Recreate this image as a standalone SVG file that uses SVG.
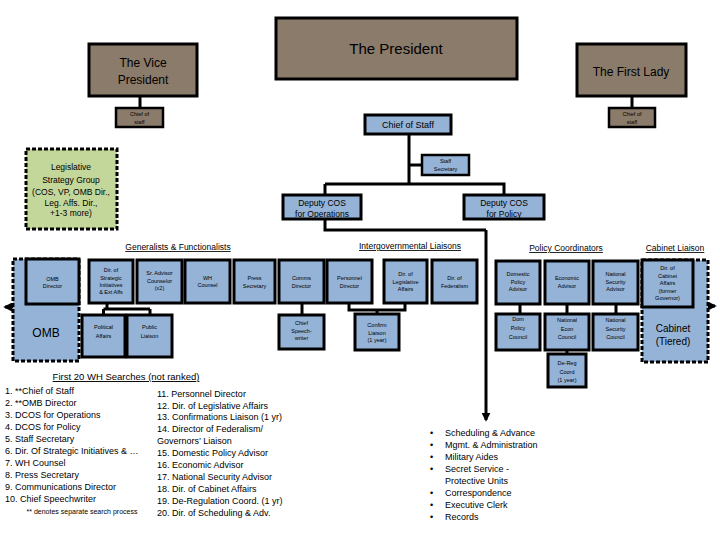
<svg xmlns="http://www.w3.org/2000/svg" width="720" height="540" viewBox="0 0 720 540">
<defs>
<style>
text{font-family:"Liberation Sans",Arial,sans-serif;fill:#000;text-anchor:middle}
.brown{fill:#8a7b6a;stroke:#000;stroke-width:3}
.blue{fill:#95b3d7;stroke:#000;stroke-width:3}
.blue2{fill:#95b3d7;stroke:#000;stroke-width:2.5}
.dash{stroke:#000;stroke-width:3;stroke-dasharray:4 2}
.green{fill:#c4d79b}
.t{font-size:5.5px}
.m{font-size:8.5px}
.h{font-size:8.5px;text-decoration:underline}
.l{font-size:9px;text-anchor:start}
.conn{fill:none;stroke:#000;stroke-width:3}
</style>
<marker id="arr" viewBox="0 0 10 10" refX="8" refY="5" markerWidth="3" markerHeight="3" orient="auto"><path d="M0,0L10,5L0,10z" fill="#000"/></marker>
</defs>
<rect width="720" height="540" fill="#fff"/>

<g id="connectors">
<path class="conn" d="M140,96V108M632,96V108"/>
<path class="conn" d="M409,134V184M409,165H422M325,184H504V195M325,184V230H486"/>
<path class="conn" d="M486,230V420" marker-end="url(#arr)"/>
<path class="conn" d="M13,307H5" marker-end="url(#arr)"/>
<path class="conn" d="M708,306H715" marker-end="url(#arr)"/>
<path class="conn" d="M107,303V309M103.5,309H150M103.5,309V315M150,309V315"/>
<path class="conn" d="M302,303V315"/>
<path class="conn" d="M349,303V310H405V303M377,310V314"/>
<path class="conn" d="M520,304V314M567,304V314M567,350V354M616,304V314"/>
</g>

<g id="president"><rect class="brown" x="276" y="18" width="241" height="61"/><text x="396" y="54" style="font-size:15px">The President</text></g>
<g id="vice-president"><rect class="brown" x="89" y="44" width="108" height="52"/><text x="143" y="67" style="font-size:12px">The Vice</text><text x="143" y="84" style="font-size:12px">President</text></g>
<g id="vp-chief-of-staff"><rect class="brown" x="116" y="108" width="47" height="19" style="stroke-width:2.5"/><text class="t" x="139.5" y="116">Chief of</text><text class="t" x="139.5" y="123.5">staff</text></g>
<g id="first-lady"><rect class="brown" x="577" y="44" width="109" height="52"/><text x="631" y="76" style="font-size:12px">The First Lady</text></g>
<g id="fl-chief-of-staff"><rect class="brown" x="609" y="108" width="46" height="19" style="stroke-width:2.5"/><text class="t" x="632" y="116">Chief of</text><text class="t" x="632" y="123.5">staff</text></g>

<g id="chief-of-staff"><rect class="blue" x="365" y="115" width="86" height="19"/><text x="408" y="128" style="font-size:9px">Chief of Staff</text></g>
<g id="staff-secretary"><rect class="blue2" x="422" y="155" width="47" height="20"/><text class="t" x="445.5" y="163">Staff</text><text class="t" x="445.5" y="171">Secretary</text></g>
<g id="deputy-ops"><rect class="blue" x="283" y="195" width="78" height="24"/><text class="m" x="322" y="206">Deputy COS</text><text class="m" x="322" y="217">for Operations</text></g>
<g id="deputy-policy"><rect class="blue" x="464" y="195" width="80" height="24"/><text class="m" x="504" y="206">Deputy COS</text><text class="m" x="504" y="217">for Policy</text></g>

<g id="legislative-strategy-group"><rect class="green dash" x="26" y="149" width="91" height="80"/><text class="m" x="71" y="170">Legislative</text><text class="m" x="71" y="183">Strategy Group</text><text class="m" x="71" y="195">(COS, VP, OMB Dir.,</text><text class="m" x="71" y="206">Leg. Affs. Dir.,</text><text class="m" x="71" y="216">+1-3 more)</text></g>

<g id="headings">
<text class="h" x="178" y="250">Generalists &amp; Functionalists</text>
<text class="h" x="410" y="249">Intergovernmental Liaisons</text>
<text class="h" x="566" y="251">Policy Coordinators</text>
<text class="h" x="675" y="251">Cabinet Liaison</text>
</g>

<g id="omb"><rect class="blue dash" x="13" y="259" width="66" height="102"/><text x="46" y="337" style="font-size:12px">OMB</text></g>
<g id="omb-director"><rect class="blue" x="26" y="259" width="53" height="45"/><text class="t" x="52.5" y="281">OMB</text><text class="t" x="52.5" y="288">Director</text></g>

<g id="dir-strategic"><rect class="blue" x="89" y="260" width="44" height="43"/><text class="t" x="111" y="272">Dir. of</text><text class="t" x="111" y="280">Strategic</text><text class="t" x="111" y="287">Initiatives</text><text class="t" x="111" y="294">&amp; Ext Affs</text></g>
<g id="sr-advisor"><rect class="blue" x="137" y="260" width="45" height="43"/><text class="t" x="159.5" y="275">Sr. Advisor</text><text class="t" x="159.5" y="283">Counselor</text><text class="t" x="159.5" y="290">(x2)</text></g>
<g id="wh-counsel"><rect class="blue" x="185" y="260" width="45" height="43"/><text class="t" x="207.5" y="280">WH</text><text class="t" x="207.5" y="287">Counsel</text></g>
<g id="press-secretary"><rect class="blue" x="234" y="260" width="41" height="43"/><text class="t" x="254.5" y="280">Press</text><text class="t" x="254.5" y="288">Secretary</text></g>
<g id="comms-director"><rect class="blue" x="279" y="260" width="45" height="43"/><text class="t" x="301.5" y="280">Comms</text><text class="t" x="301.5" y="288">Director</text></g>
<g id="personnel-director"><rect class="blue" x="327" y="260" width="45" height="43"/><text class="t" x="349.5" y="280">Personnel</text><text class="t" x="349.5" y="288">Director</text></g>
<g id="dir-legislative"><rect class="blue" x="384" y="260" width="43" height="43"/><text class="t" x="405.5" y="276">Dir. of</text><text class="t" x="405.5" y="284">Legislative</text><text class="t" x="405.5" y="291">Affairs</text></g>
<g id="dir-federalism"><rect class="blue" x="432" y="260" width="45" height="43"/><text class="t" x="454.5" y="280">Dir. of</text><text class="t" x="454.5" y="288">Federalism</text></g>

<g id="political-affairs"><rect class="blue" x="82" y="315" width="43" height="42"/><text class="t" x="103.5" y="329">Political</text><text class="t" x="103.5" y="338">Affairs</text></g>
<g id="public-liaison"><rect class="blue" x="127" y="315" width="45" height="42"/><text class="t" x="149.5" y="329">Public</text><text class="t" x="149.5" y="338">Liaison</text></g>
<g id="chief-speechwriter"><rect class="blue" x="279" y="315" width="45" height="34"/><text class="t" x="301.5" y="325">Chief</text><text class="t" x="301.5" y="333">Speech-</text><text class="t" x="301.5" y="340">writer</text></g>
<g id="confirm-liaison"><rect class="blue" x="355" y="314" width="44" height="36"/><text class="t" x="377" y="327">Confirm</text><text class="t" x="377" y="335">Liaison</text><text class="t" x="377" y="342">(1 year)</text></g>

<g id="domestic-policy-advisor"><rect class="blue" x="496" y="261" width="44" height="43"/><text class="t" x="518" y="276">Domestic</text><text class="t" x="518" y="284">Policy</text><text class="t" x="518" y="291">Advisor</text></g>
<g id="economic-advisor"><rect class="blue" x="545" y="261" width="44" height="43"/><text class="t" x="567" y="280">Economic</text><text class="t" x="567" y="288">Advisor</text></g>
<g id="nsa"><rect class="blue" x="593" y="261" width="45" height="43"/><text class="t" x="615.5" y="276">National</text><text class="t" x="615.5" y="284">Security</text><text class="t" x="615.5" y="291">Advisor</text></g>
<g id="dom-policy-council"><rect class="blue" x="496" y="314" width="44" height="36"/><text class="t" x="518" y="321">Dom</text><text class="t" x="518" y="330">Policy</text><text class="t" x="518" y="339">Council</text></g>
<g id="nec"><rect class="blue" x="545" y="314" width="44" height="36"/><text class="t" x="567" y="322">National</text><text class="t" x="567" y="331">Econ</text><text class="t" x="567" y="339">Council</text></g>
<g id="nsc"><rect class="blue" x="593" y="314" width="45" height="36"/><text class="t" x="615.5" y="322">National</text><text class="t" x="615.5" y="331">Security</text><text class="t" x="615.5" y="339">Council</text></g>
<g id="de-reg"><rect class="blue" x="548" y="354" width="38" height="33"/><text class="t" x="567" y="365">De-Reg</text><text class="t" x="567" y="374">Coord</text><text class="t" x="567" y="382">(1 year)</text></g>

<g id="cabinet"><rect class="blue dash" x="642" y="260" width="66" height="102"/><text x="673" y="332" style="font-size:10px">Cabinet</text><text x="673" y="345" style="font-size:10px">(Tiered)</text></g>
<g id="dir-cabinet-affairs"><rect class="blue" x="642" y="260" width="51" height="47"/><text class="t" x="667.5" y="270">Dir. of</text><text class="t" x="667.5" y="278">Cabinet</text><text class="t" x="667.5" y="285">Affairs</text><text class="t" x="667.5" y="293">(former</text><text class="t" x="667.5" y="300">Governor)</text></g>

<g id="searches">
<text x="126" y="380" style="font-size:9.5px;text-decoration:underline">First 20 WH Searches (not ranked)</text>
<text class="l" x="5" y="394">1. **Chief of Staff</text>
<text class="l" x="5" y="406">2. **OMB Director</text>
<text class="l" x="5" y="418">3. DCOS for Operations</text>
<text class="l" x="5" y="430">4. DCOS for Policy</text>
<text class="l" x="5" y="442">5. Staff Secretary</text>
<text class="l" x="5" y="454">6. Dir. Of Strategic Initiatives &amp; …</text>
<text class="l" x="5" y="466">7. WH Counsel</text>
<text class="l" x="5" y="478">8. Press Secretary</text>
<text class="l" x="5" y="490">9. Communications Director</text>
<text class="l" x="5" y="502">10. Chief Speechwriter</text>
<text x="82" y="514" style="font-size:7px">** denotes separate search process</text>
<text class="l" x="157" y="397">11. Personnel Director</text>
<text class="l" x="157" y="409">12. Dir. of Legislative Affairs</text>
<text class="l" x="157" y="420">13. Confirmations Liaison (1 yr)</text>
<text class="l" x="157" y="432">14. Director of Federalism/</text>
<text class="l" x="157" y="444">Governors’ Liaison</text>
<text class="l" x="157" y="456">15. Domestic Policy Advisor</text>
<text class="l" x="157" y="468">16. Economic Advisor</text>
<text class="l" x="157" y="480">17. National Security Advisor</text>
<text class="l" x="157" y="492">18. Dir. of Cabinet Affairs</text>
<text class="l" x="157" y="504">19. De-Regulation Coord. (1 yr)</text>
<text class="l" x="157" y="516">20. Dir. of Scheduling &amp; Adv.</text>
</g>

<g id="office-list">
<text class="l" x="430" y="436">•</text><text class="l" x="445" y="436">Scheduling &amp; Advance</text>
<text class="l" x="430" y="448">•</text><text class="l" x="445" y="448">Mgmt. &amp; Administration</text>
<text class="l" x="430" y="460">•</text><text class="l" x="445" y="460">Military Aides</text>
<text class="l" x="430" y="472">•</text><text class="l" x="445" y="472">Secret Service -</text>
<text class="l" x="445" y="484">Protective Units</text>
<text class="l" x="430" y="496">•</text><text class="l" x="445" y="496">Correspondence</text>
<text class="l" x="430" y="508">•</text><text class="l" x="445" y="508">Executive Clerk</text>
<text class="l" x="430" y="520">•</text><text class="l" x="445" y="520">Records</text>
</g>
</svg>
